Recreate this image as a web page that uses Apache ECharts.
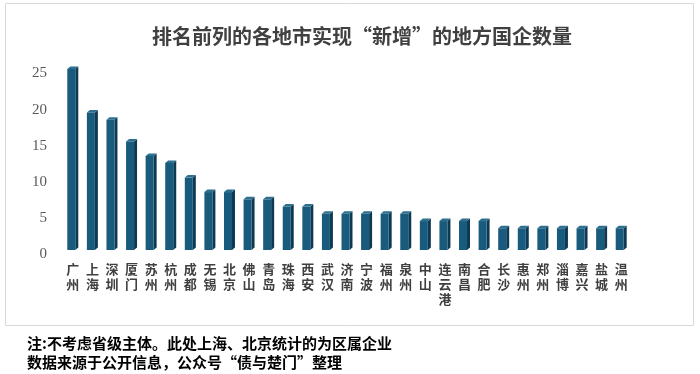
<!DOCTYPE html>
<html><head><meta charset="utf-8">
<script src="https://cdn.jsdelivr.net/npm/echarts@6/dist/echarts.min.js"></script>
<style>html,body{margin:0;padding:0;background:#fff}#c{width:700px;height:374px}</style>
</head><body><div id="c"></div>
<script>
var categories = ['广州','上海','深圳','厦门','苏州','杭州','成都','无锡','北京','佛山','青岛','珠海','西安','武汉','济南','宁波','福州','泉州','中山','连云港','南昌','合肥','长沙','惠州','郑州','淄博','嘉兴','盐城','温州'];
var values = [25,19,18,15,13,12,10,8,8,7,7,6,6,5,5,5,5,5,4,4,4,4,3,3,3,3,3,3,3];
var yTicks = [0,5,10,15,20,25];
var titleText = '排名前列的各地市实现“新增”的地方国企数量';
var note1 = '注:不考虑省级主体。此处上海、北京统计的为区属企业';
var note2 = '数据来源于公开信息，公众号“债与楚门”整理';

var chart = echarts.init(document.getElementById('c'), null, {renderer:'canvas'});
chart.setOption({
  animation:false,
  title:{text:titleText,left:357,textAlign:'center',top:21,
    textStyle:{fontFamily:'Noto Sans CJK SC',fontWeight:'bold',fontSize:20,color:'#404040'}},
  grid:{left:63,right:69,top:69,bottom:124},
  xAxis:{type:'category',data:categories,
    axisLine:{show:false},axisTick:{show:false},
    axisLabel:{interval:0,margin:12,fontFamily:'Noto Sans CJK SC',fontWeight:'bold',fontSize:13,lineHeight:15,color:'#404040',
      verticalAlign:'top',formatter:function(v){return v.split('').join('\n');}}},
  yAxis:{type:'value',min:yTicks[0],max:yTicks[yTicks.length-1],interval:5,
    axisLine:{show:false},axisTick:{show:false},splitLine:{show:false},
    axisLabel:{margin:16,fontFamily:'Liberation Serif',fontSize:15,color:'#595959',verticalAlign:'top',lineHeight:9}},
  series:[{type:'custom',data:values.map(function(v,i){return [i,v];}),
    renderItem:function(params,api){
      var p = api.coord([api.value(0),api.value(1)]);
      var b = api.coord([api.value(0),0]);
      var cx=p[0], top=p[1], base=b[1];
      var l=cx-5.5, r=cx+2.5, d=3, h=2.5;
      return {type:'group',children:[
        {type:'polygon',shape:{points:[[r,top],[r+d,top-h],[r+d,base-h],[r,base]]},style:{fill:'#0d3a52'}},
        {type:'polygon',shape:{points:[[l,top],[l+d,top-h],[r+d,top-h],[r,top]]},style:{fill:'#2c6f8f'}},
        {type:'rect',shape:{x:l,y:top,width:r-l,height:base-top},style:{fill:'#195b7d'}}
      ]};
    }}],
  graphic:[
    {type:'rect',shape:{x:5.5,y:3.5,width:688,height:322},style:{fill:null,stroke:'#d9d9d9',lineWidth:1},silent:true},
    {type:'text',left:27,top:336,style:{text:note1,fontFamily:'Noto Sans CJK SC',fontWeight:'bold',fontSize:15,fill:'#000'}},
    {type:'text',left:27,top:355,style:{text:note2,fontFamily:'Noto Sans CJK SC',fontWeight:'bold',fontSize:15,fill:'#000'}}
  ]
});
</script></body></html>
